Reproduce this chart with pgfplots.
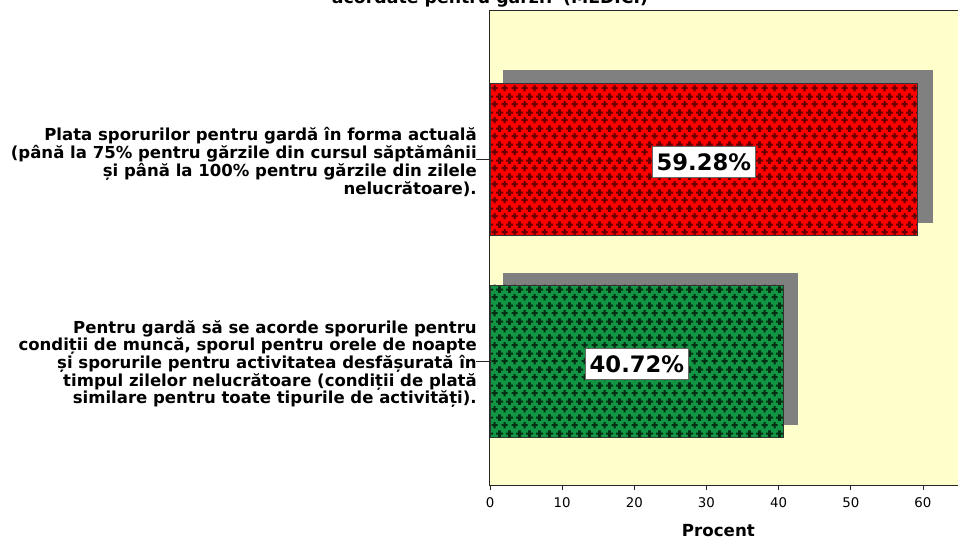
\documentclass[border=0pt]{standalone}
\usepackage{fontspec}
\setmainfont{DejaVu Sans}
\usepackage{pgfplots}
\pgfplotsset{compat=1.18}
\usetikzlibrary{patterns}
\definecolor{bgyellow}{RGB}{255,255,204}
\definecolor{barred}{RGB}{255,0,0}
\definecolor{bargreen}{RGB}{18,150,68}
\definecolor{shadowgray}{RGB}{128,128,128}
\pgfdeclarepatternformonly{pluses}{\pgfpointorigin}{\pgfqpoint{7.5pt}{12pt}}{\pgfqpoint{7.5pt}{12pt}}{%
  \pgfsetlinewidth{1.6pt}%
  % cross at (3.75,3)
  \pgfpathmoveto{\pgfqpoint{1.25pt}{3pt}}\pgfpathlineto{\pgfqpoint{6.25pt}{3pt}}%
  \pgfpathmoveto{\pgfqpoint{3.75pt}{0.5pt}}\pgfpathlineto{\pgfqpoint{3.75pt}{5.5pt}}%
  % cross at (0,9) and (7.5,9), clipped by the tile
  \pgfpathmoveto{\pgfqpoint{-2.5pt}{9pt}}\pgfpathlineto{\pgfqpoint{2.5pt}{9pt}}%
  \pgfpathmoveto{\pgfqpoint{0pt}{6.5pt}}\pgfpathlineto{\pgfqpoint{0pt}{11.5pt}}%
  \pgfpathmoveto{\pgfqpoint{5pt}{9pt}}\pgfpathlineto{\pgfqpoint{10pt}{9pt}}%
  \pgfpathmoveto{\pgfqpoint{7.5pt}{6.5pt}}\pgfpathlineto{\pgfqpoint{7.5pt}{11.5pt}}%
  \pgfusepath{stroke}%
}
\begin{document}
\begin{tikzpicture}
\useasboundingbox (0,0) rectangle (718.5pt,405pt);
\clip (0,0) rectangle (718.5pt,405pt);
\node[font=\fontsize{13}{15}\selectfont\bfseries, anchor=base] at (367.5pt,402pt) {acordate pentru gărzi? (MEDICI)};
\begin{axis}[
  at={(367.5pt,41.25pt)}, anchor=south west,
  scale only axis, width=351.75pt, height=355.5pt,
  xmin=0, xmax=65, ymin=-0.614, ymax=1.733,
  clip mode=individual,
  axis background/.style={fill=bgyellow},
  axis line style={line width=0.75pt, black!85},
  xtick={0,10,...,60},
  ytick={0,1},
  yticklabels={{Pentru gardă să se acorde sporurile pentru\\condiții de muncă, sporul pentru orele de noapte\\și sporurile pentru activitatea desfășurată în\\timpul zilelor nelucrătoare (condiții de plată\\similare pentru toate tipurile de activități).},
               {Plata sporurilor pentru gardă în forma actuală\\(până la 75\% pentru gărzile din cursul săptămânii\\și până la 100\% pentru gărzile din zilele\\nelucrătoare).}},
  yticklabel style={align=right, anchor=east, inner sep=0pt, xshift=-6pt, yshift=-2.25pt,
    font=\fontsize{12.4}{13.3}\selectfont\bfseries},
  ytick style={draw=none},
  tick align=outside, major tick length=3.75pt,
  xtick pos=bottom,
  xtick style={black!85, line width=0.6pt},
  xticklabel style={anchor=center, yshift=-9.75pt, font=\fontsize{10}{12}\selectfont},
  /pgf/number format/assume math mode=true,
  xlabel={Procent},
  xlabel style={font=\fontsize{12.5}{15}\selectfont\bfseries, at={(axis description cs:0.487,0)}, anchor=center, yshift=-34.5pt},
]
% shadows
\addplot[fill=shadowgray, draw=none] coordinates {(1.8,0.683) (61.36,0.683) (61.36,1.441) (1.8,1.441)} -- cycle;
\addplot[fill=shadowgray, draw=none] coordinates {(1.8,-0.317) (42.66,-0.317) (42.66,0.436) (1.8,0.436)} -- cycle;
% bars
\addplot[xbar, bar width=114pt, bar shift=0pt, fill=barred, draw=black!80, line width=0.6pt,
  postaction={pattern=pluses, pattern color=barred!40!black}] coordinates {(59.28,1)};
\addplot[xbar, bar width=114pt, bar shift=0pt, fill=bargreen, draw=black!80, line width=0.6pt,
  postaction={pattern=pluses, pattern color=bargreen!30!black}] coordinates {(40.72,0)};
% y ticks
\draw[line width=0.6pt, black!85] (axis cs:0,1) -- ++(-10.5pt,0pt);
\draw[line width=0.6pt, black!85] (axis cs:0,0) -- ++(-10.5pt,0pt);
% value labels
\node[fill=white, draw=black!60, line width=0.5pt, font=\fontsize{17}{20}\selectfont\bfseries,
  inner xsep=3pt, inner ysep=5.5pt, text height=12.4pt, text depth=0pt] at (axis cs:29.64,0.985) {59.28\%};
\node[fill=white, draw=black!60, line width=0.5pt, font=\fontsize{17}{20}\selectfont\bfseries,
  inner xsep=3pt, inner ysep=5.5pt, text height=12.4pt, text depth=0pt] at (axis cs:20.36,-0.015) {40.72\%};
\end{axis}
\end{tikzpicture}
\end{document}
